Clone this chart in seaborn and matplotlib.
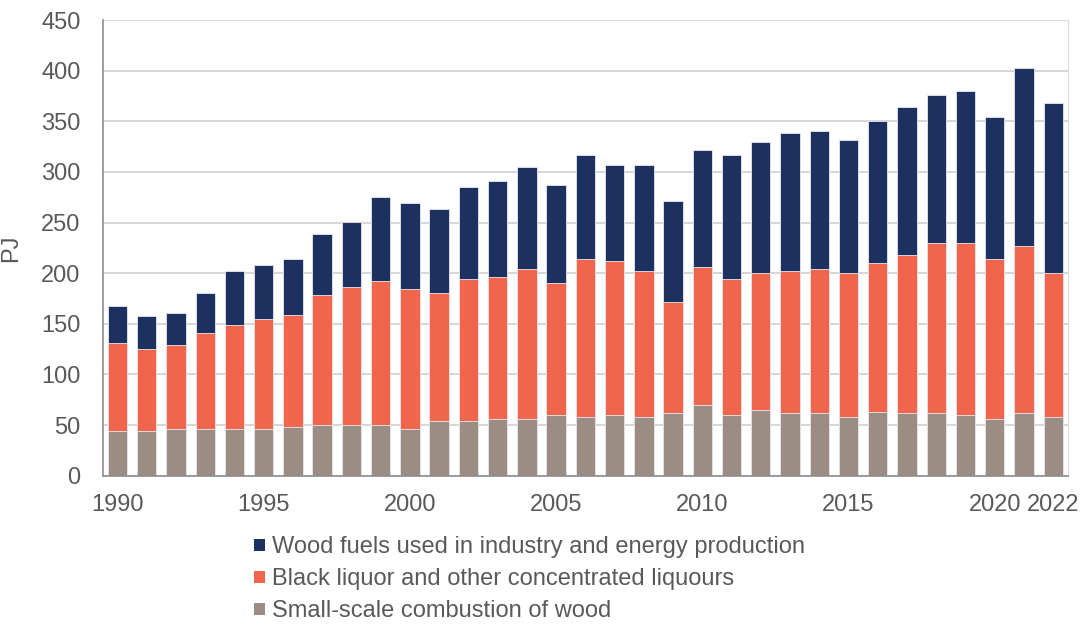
import numpy as np
import pandas as pd
import matplotlib
matplotlib.use("Agg")
import matplotlib.pyplot as plt
import seaborn as sns
from matplotlib.patches import Patch

years = list(range(1990, 2023))

# PJ per category
small_scale = [44, 44, 46, 46, 46, 46, 48, 50, 50, 50, 46, 54, 54, 56, 56,
               60, 58, 60, 58, 62, 70, 60, 65, 62, 62, 58, 63, 62, 62, 60,
               56, 62, 58]
black_liquor = [87, 81, 83, 95, 103, 109, 111, 128, 136, 142, 138, 126, 140,
                140, 148, 130, 156, 152, 144, 110, 136, 134, 135, 140, 142,
                142, 147, 156, 168, 170, 158, 165, 142]
wood_fuels = [37, 33, 32, 39, 53, 53, 55, 61, 65, 83, 85, 83, 91, 95, 101,
              97, 103, 95, 105, 99, 116, 123, 130, 136, 136, 132, 140, 146,
              146, 150, 140, 176, 168]

labels = ["Wood fuels used in industry and energy production",
          "Black liquor and other concentrated liquours",
          "Small-scale combustion of wood"]
colors = ["#1c3160", "#f0654c", "#9b8c84"]

df = pd.DataFrame({"year": [str(y) for y in years],
                   "small": small_scale,
                   "black": black_liquor,
                   "wood": wood_fuels})
df["lower2"] = df["small"] + df["black"]
df["total"] = df["lower2"] + df["wood"]

sns.set_style("white")
plt.rcParams["font.family"] = ["Liberation Sans", "DejaVu Sans"]

fig = plt.figure(figsize=(10.82, 6.26), dpi=100)
ax = fig.add_axes([0.095, 0.24, 0.892, 0.728])

order = df["year"].tolist()
# stacked bars drawn as overlapping cumulative heights
for col, c in zip(["total", "lower2", "small"], colors):
    sns.barplot(data=df, x="year", y=col, order=order, color=c, width=0.66,
                edgecolor="#e8e8ee", linewidth=0.6, saturation=1, ax=ax)

ax.set_ylim(0, 450)
ax.set_yticks(np.arange(0, 451, 50))
ax.set_xlim(-0.5, len(years) - 0.5)
ax.yaxis.grid(True, color="#d0d0d0", linewidth=1.2)
ax.set_axisbelow(True)

# category labels every 5 years plus the last one
ax.set_xticks([i for i, y in enumerate(years) if y % 5 == 0 or y == 2022])
ax.set_xticklabels([str(y) for y in years if y % 5 == 0 or y == 2022])
ax.set_xticks(np.arange(-0.5, len(years), 1), minor=True)
ax.tick_params(axis="x", which="major", length=0, pad=13)
ax.tick_params(axis="x", which="minor", length=4.5, color="#8c8c8c", width=1)
ax.tick_params(axis="y", length=6, color="#8c8c8c", width=1, pad=10)
ax.tick_params(labelsize=17, labelcolor="#595959")

ax.set_xlabel("")
ax.set_ylabel("PJ", fontsize=17, color="#595959", labelpad=14)

for s in ["left", "bottom"]:
    ax.spines[s].set_color("#8c8c8c")
    ax.spines[s].set_linewidth(1.2)
ax.spines["right"].set_color("#d8d8d8")
ax.spines["top"].set_visible(False)

handles = [Patch(facecolor=c, edgecolor="none") for c in colors]
fig.legend(handles, labels, loc="upper left", bbox_to_anchor=(0.235, 0.143),
           frameon=False, fontsize=17, labelcolor="#595959",
           handlelength=0.45, handleheight=0.45, handletextpad=0.3,
           labelspacing=0.42, borderaxespad=0, borderpad=0)

fig.savefig("out.png", dpi=100)
